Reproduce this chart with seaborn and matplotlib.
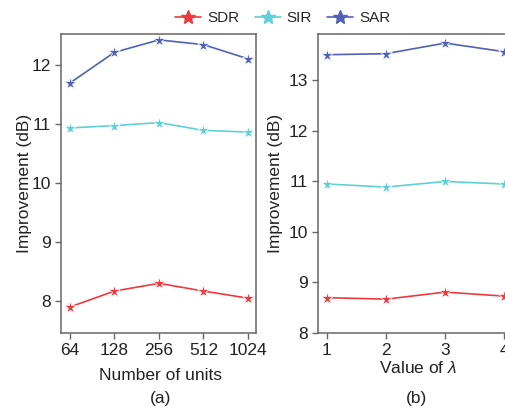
import matplotlib
matplotlib.use("Agg")
import matplotlib.pyplot as plt
import seaborn as sns
import pandas as pd
import numpy as np
from matplotlib.lines import Line2D

# ---- data ----
units = [64, 128, 256, 512, 1024]
sdr_units = [7.90, 8.17, 8.30, 8.17, 8.05]
sir_units = [10.93, 10.97, 11.02, 10.89, 10.86]
sar_units = [11.69, 12.21, 12.42, 12.34, 12.10]

lambdas = [1, 2, 3, 4]
sdr_lam = [8.70, 8.67, 8.81, 8.73]
sir_lam = [10.95, 10.89, 11.00, 10.95]
sar_lam = [13.51, 13.53, 13.74, 13.57]

metrics = ["SDR", "SIR", "SAR"]
colors = {"SDR": "#ec3a3f", "SIR": "#5fd0d6", "SAR": "#5161b5"}

sns.set_style("ticks")
plt.rcParams['font.family'] = ['Liberation Sans', 'DejaVu Sans']
plt.rcParams['mathtext.fontset'] = 'custom'
plt.rcParams['mathtext.it'] = 'Liberation Sans:italic'
plt.rcParams['mathtext.rm'] = 'Liberation Sans'

FS = 12.5

df_a = pd.DataFrame({
    "x": units * 3,
    "y": sdr_units + sir_units + sar_units,
    "metric": sum([[m] * len(units) for m in metrics], []),
})
df_b = pd.DataFrame({
    "x": lambdas * 3,
    "y": sdr_lam + sir_lam + sar_lam,
    "metric": sum([[m] * len(lambdas) for m in metrics], []),
})

fig = plt.figure(figsize=(5.06, 4.08), dpi=100)
ax1 = fig.add_axes([61/506, 1-333/408, 195/506, 299/408])
ax2 = fig.add_axes([318/506, 1-333/408, 195/506, 299/408])

for ax, df in ((ax1, df_a), (ax2, df_b)):
    sns.lineplot(data=df, x="x", y="y", hue="metric", palette=colors,
                 marker="*", markersize=9.5, markeredgewidth=0.5,
                 linewidth=1.2, ax=ax, legend=False)
    for s in ax.spines.values():
        s.set_color("#666666")
        s.set_linewidth(1.1)
    ax.tick_params(axis="both", colors="#666666", labelcolor="#222222",
                   labelsize=FS, length=4, width=1.0, direction="out", pad=3)
    ax.set_ylabel("Improvement (dB)", fontsize=FS, color="#222222")
    ax.set_xlabel("")

ax1.set_xscale("log", base=2)
ax1.set_xlim(64 / 2**0.2, 1024 * 2**0.18)
ax1.set_xticks(units)
ax1.set_xticklabels([str(u) for u in units])
ax1.xaxis.set_minor_locator(matplotlib.ticker.NullLocator())
ax1.set_ylim(7.46, 12.52)
ax1.set_yticks([8, 9, 10, 11, 12])

ax2.set_xlim(0.85, 4.15)
ax2.set_xticks(lambdas)
ax2.set_ylim(8, 13.92)
ax2.set_yticks([8, 9, 10, 11, 12, 13])

ax1.yaxis.set_label_coords((32 - 61) / 195, 0.5)
ax2.yaxis.set_label_coords((283 - 318) / 195, 0.5)

fig.text(161/506, 1-375/408, "Number of units", ha="center", va="center", fontsize=FS, color="#222222")
fig.text(161/506, 1-399/408, "(a)", ha="center", va="center", fontsize=FS, color="#222222")
fig.text(418/506, 1-368/408, "Value of $\\lambda$", ha="center", va="center", fontsize=FS, color="#222222")
fig.text(417/506, 1-398/408, "(b)", ha="center", va="center", fontsize=FS, color="#222222")

handles = [Line2D([0], [0], color=colors[m], marker="*", markersize=10, linewidth=1.2) for m in metrics]
fig.legend(handles, metrics, loc="center", bbox_to_anchor=(283/506, 1-18/408), ncol=3,
           frameon=False, fontsize=11, handlelength=1.7, columnspacing=1.0, handletextpad=0.4)

fig.savefig("out.png", dpi=100)
